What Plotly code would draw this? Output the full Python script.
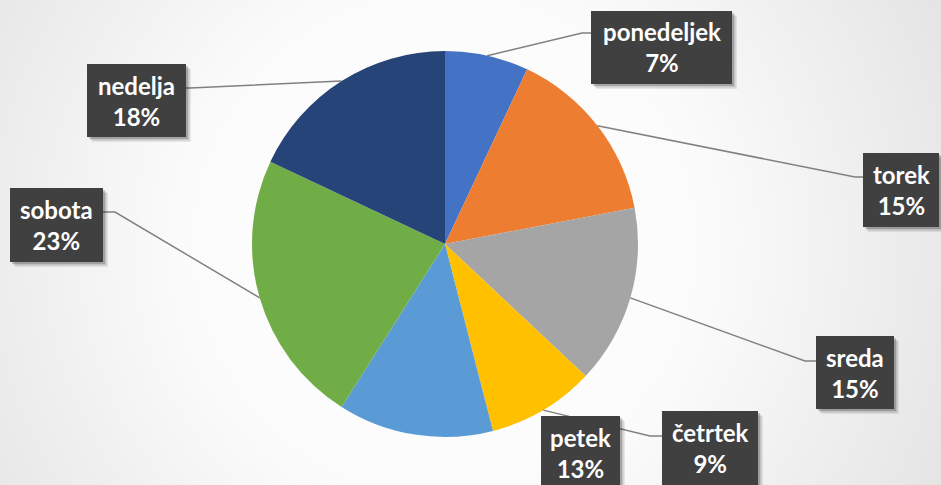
import math
import base64
import plotly.graph_objects as go

# ---- data ----
days = ["ponedeljek", "torek", "sreda", "četrtek", "petek", "sobota", "nedelja"]
shares = [7, 15, 15, 9, 13, 23, 18]
colors = ["#4472C4", "#ED7D31", "#A5A5A5", "#FFC000", "#5B9BD5", "#70AD47", "#264478"]

# ---- layout constants (pixels) ----
W, H = 941, 485
CX, CY, R = 445, 244, 193
# label box centre, box size, elbow point, box attach point (None = no leader line)
label_boxes = {
    "ponedeljek": dict(c=(661.5, 47.5), s=(141, 73), elbow=(582, 33), attach=(591, 33)),
    "torek": dict(c=(901, 190), s=(76, 74), elbow=(855, 177), attach=(863, 177)),
    "sreda": dict(c=(855, 372.5), s=(78, 73), elbow=(805, 361), attach=(816, 361)),
    "četrtek": dict(c=(710, 448), s=(96, 74), elbow=(650, 436), attach=(662, 436)),
    "petek": dict(c=(580.5, 452.5), s=(79, 73), elbow=None, attach=None),
    "sobota": dict(c=(56.5, 225), s=(93, 74), elbow=(115, 212), attach=(103, 212)),
    "nedelja": dict(c=(136.5, 100.5), s=(99, 73), elbow=(190, 88), attach=(186, 88)),
}


def px(x):
    return x / W


def py(y):
    return 1 - y / H


fig = go.Figure()
fig.add_trace(go.Pie(
    labels=days, values=shares, sort=False, direction="clockwise", rotation=0,
    marker=dict(colors=colors, line=dict(width=0)),
    textinfo="none", hoverinfo="label+percent", showlegend=False,
    domain=dict(x=[px(CX - R), px(CX + R)], y=[py(CY + R), py(CY - R)]),
))

shapes = []
annotations = []
total = sum(shares)
cum = 0
for day, v in zip(days, shares):
    mid = (cum + v / 2) / total * 2 * math.pi
    cum += v
    ex, ey = CX + R * math.sin(mid), CY - R * math.cos(mid)
    lb = label_boxes[day]
    if lb["elbow"] is not None:
        (bx, by), (ax_, ay_) = lb["elbow"], lb["attach"]
        path = f"M {px(ex)},{py(ey)} L {px(bx)},{py(by)} L {px(ax_)},{py(ay_)}"
        shapes.append(dict(type="path", xref="paper", yref="paper", path=path,
                           line=dict(color="#808080", width=1.5), layer="above"))
    (cx, cy), (w, h) = lb["c"], lb["s"]
    for off, op in ((5, 0.08), (3.5, 0.12), (2, 0.18)):
        shapes.append(dict(type="rect", xref="paper", yref="paper",
                           x0=px(cx - w / 2 + off), x1=px(cx + w / 2 + off),
                           y0=py(cy + h / 2 + off), y1=py(cy - h / 2 + off),
                           fillcolor=f"rgba(0,0,0,{op})", line=dict(width=0), layer="above"))
    shapes.append(dict(type="rect", xref="paper", yref="paper",
                       x0=px(cx - w / 2), x1=px(cx + w / 2),
                       y0=py(cy + h / 2), y1=py(cy - h / 2),
                       fillcolor="#404040", line=dict(width=0), layer="above"))
    annotations.append(dict(x=px(cx), y=py(cy), xref="paper", yref="paper",
                            text=f"<b>{day}</b><br><b>{v}%</b>", showarrow=False,
                            font=dict(family="Lato", size=24, color="white"),
                            xanchor="center", yanchor="middle", align="center"))

svg = f"""<svg xmlns='http://www.w3.org/2000/svg' width='{W}' height='{H}'>
<defs><radialGradient id='g' cx='{CX}' cy='{CY}' r='{W*0.62:.0f}' gradientUnits='userSpaceOnUse'>
<stop offset='0' stop-color='#ffffff'/><stop offset='0.45' stop-color='#fbfbfb'/>
<stop offset='1' stop-color='#e2e2e2'/></radialGradient></defs>
<rect width='{W}' height='{H}' fill='url(#g)'/></svg>"""
bg = "data:image/svg+xml;base64," + base64.b64encode(svg.encode()).decode()

fig.update_layout(
    width=W, height=H, margin=dict(l=0, r=0, t=0, b=0),
    paper_bgcolor="#f6f6f6", plot_bgcolor="rgba(0,0,0,0)",
    shapes=shapes, annotations=annotations,
    images=[dict(source=bg, xref="paper", yref="paper", x=0, y=1, sizex=1, sizey=1,
                 sizing="stretch", layer="below", xanchor="left", yanchor="top")],
)
fig.write_html(
    "out.html",
    config={"displayModeBar": False},
    post_script="document.body.style.margin='0';document.body.style.overflow='hidden';",
)
